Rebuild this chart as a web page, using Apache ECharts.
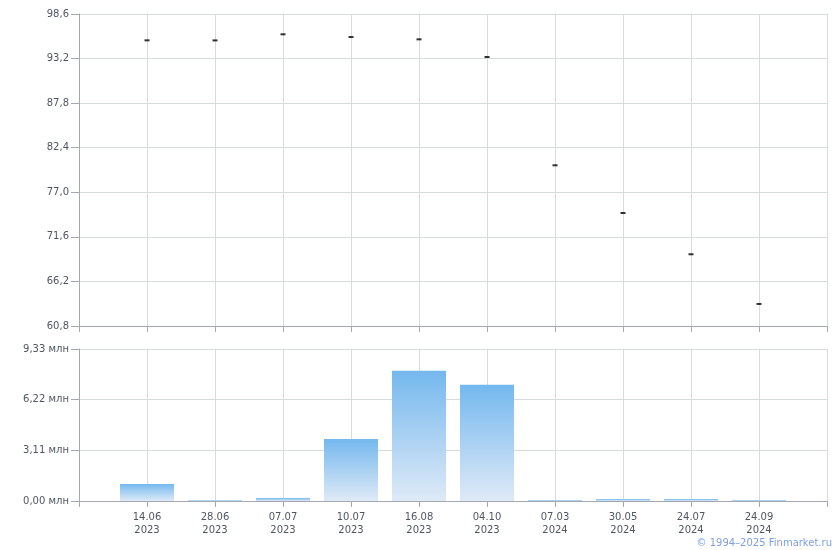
<!DOCTYPE html>
<html>
<head>
<meta charset="utf-8">
<script src="https://cdn.jsdelivr.net/npm/echarts@6/dist/echarts.min.js"></script>
<style>
html,body{margin:0;padding:0;background:#fff;}
#chart{width:840px;height:550px;}
</style>
</head>
<body>
<div id="chart"></div>
<script>
var dates = ['14.06\n2023','28.06\n2023','07.07\n2023','10.07\n2023','16.08\n2023','04.10\n2023','07.03\n2024','30.05\n2024','24.07\n2024','24.09\n2024'];
var prices = [95.41, 95.40, 96.14, 95.81, 95.53, 93.39, 80.27, 74.49, 69.49, 63.47];
var volumes = [1.05, 0.05, 0.18, 3.81, 8.00, 7.13, 0.06, 0.12, 0.12, 0.06];
var priceTicks = {min: 60.8, max: 98.6, interval: 5.4};
var volumeTicks = {min: 0, max: 9.33, interval: 3.11};

var axisCats = [''].concat(dates, ['']);
var priceData = [null].concat(prices, [null]);
var volumeData = [null].concat(volumes, [null]);

var FONT = 'DejaVu Sans, Verdana, sans-serif';
var LABEL = '#4f5563';
var AXIS = '#a3a8b3';
var SPLIT = '#d6dbe0';

var chart = echarts.init(document.getElementById('chart'));
chart.setOption({
  animation: false,
  backgroundColor: '#fff',
  textStyle: {fontFamily: FONT},
  grid: [
    {left: 79, right: 13, top: 14, height: 312},
    {left: 79, right: 13, top: 349, height: 152}
  ],
  xAxis: [
    {
      type: 'category', gridIndex: 0, data: axisCats, boundaryGap: false,
      axisLine: {lineStyle: {color: AXIS}},
      axisTick: {show: true, length: 6, interval: 0, lineStyle: {color: AXIS}},
      axisLabel: {show: false},
      splitLine: {show: true, interval: 0, lineStyle: {color: SPLIT}}
    },
    {
      type: 'category', gridIndex: 1, data: axisCats, boundaryGap: false,
      axisLine: {lineStyle: {color: AXIS}},
      axisTick: {show: true, length: 6, interval: 0, lineStyle: {color: AXIS}},
      axisLabel: {show: true, interval: 0, margin: 10, color: LABEL, fontSize: 10, fontFamily: FONT, lineHeight: 13},
      splitLine: {show: true, interval: 0, lineStyle: {color: SPLIT}}
    }
  ],
  yAxis: [
    {
      type: 'value', gridIndex: 0,
      min: priceTicks.min, max: priceTicks.max, interval: priceTicks.interval,
      axisLine: {show: true, lineStyle: {color: AXIS}},
      axisTick: {show: true, length: 8, lineStyle: {color: AXIS}},
      axisLabel: {margin: 10, color: LABEL, fontSize: 10, fontFamily: FONT,
        formatter: function (v) { return v.toFixed(1).replace('.', ','); }},
      splitLine: {show: true, lineStyle: {color: SPLIT}}
    },
    {
      type: 'value', gridIndex: 1,
      min: volumeTicks.min, max: volumeTicks.max, interval: volumeTicks.interval,
      axisLine: {show: true, lineStyle: {color: AXIS}},
      axisTick: {show: true, length: 8, lineStyle: {color: AXIS}},
      axisLabel: {margin: 10, color: LABEL, fontSize: 10, fontFamily: FONT,
        formatter: function (v) { return v.toFixed(2).replace('.', ',') + ' млн'; }},
      splitLine: {show: true, lineStyle: {color: SPLIT}}
    }
  ],
  series: [
    {
      type: 'scatter', xAxisIndex: 0, yAxisIndex: 0,
      data: priceData,
      symbol: 'rect', symbolSize: [5, 2],
      itemStyle: {color: '#000'}
    },
    {
      type: 'bar', xAxisIndex: 1, yAxisIndex: 1,
      data: volumeData,
      barWidth: 54,
      itemStyle: {
        color: new echarts.graphic.LinearGradient(0, 0, 0, 1, [
          {offset: 0, color: '#74b8ee'},
          {offset: 1, color: '#dfeaf7'}
        ])
      }
    }
  ],
  graphic: [
    {
      type: 'text', right: 8, bottom: 2,
      style: {text: '© 1994–2025 Finmarket.ru', fill: '#7c9fe0', fontSize: 10, fontFamily: FONT}
    }
  ]
});
</script>
</body>
</html>
